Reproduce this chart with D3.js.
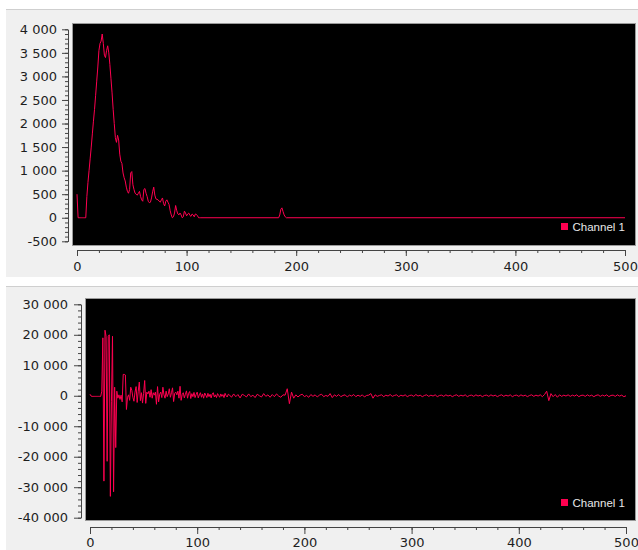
<!DOCTYPE html>
<html><head><meta charset="utf-8">
<script src="https://cdn.jsdelivr.net/npm/d3@7"></script>
<style>body{margin:0;background:#fff}svg{display:block}</style>
</head><body><svg id="c" width="638" height="550"></svg>
<script>
// ---------- DATA ----------
const seriesName = "Channel 1";
// top chart: values for x = 0..112 (one per unit)
const topHeadY = [500,0,0,0,0,0,0,0,0,
 450,750,1000,1250,1500,1780,2050,2300,2600,2900,3200,3550,3700,3750,3900,3700,3450,3400,3550,3650,3500,
 3250,2950,2650,2300,2000,1700,1600,1750,1650,1350,1200,1150,950,850,780,650,560,520,600,950,
 980,700,600,520,500,480,520,560,450,380,350,600,620,520,450,350,320,330,420,550,
 650,480,400,390,380,350,330,380,420,300,250,350,380,330,280,150,60,0,20,100,
 260,150,80,60,100,60,0,20,140,100,40,80,100,50,30,80,60,20,80,70,40,0,0];
// top chart: remaining points (x, y)
const topTailX = [113,184,185,186,187,188,189,190,191,500];
const topTailY = [0,0,60,180,210,130,60,20,0,0];
// bottom chart: values for x = 0..129 (one per unit)
const botHeadY = [500,-100,-200,-200,-200,-200,-200,-200,-200,-200,-200,
 1500,19000,-28000,21500,19500,-21500,19500,20000,-33000,-2000,
 19500,-31500,2800,-17000,1500,-800,300,-1200,200,-2000,
 7000,7000,6800,-4500,-500,300,-1500,2800,1800,-500,
 -1800,1200,3000,-2200,1500,4500,-1600,1000,-2400,800,
 5000,-2500,1200,600,1500,-500,2000,-800,1000,200,
 1200,-2800,3000,-2000,500,1200,-600,2800,300,-800,
 1500,-300,600,2300,-500,1000,2600,-1900,800,1200,
 300,1500,-800,3100,-1500,400,1000,-700,500,1600,
 -800,800,1400,-900,700,-300,1100,-600,400,1200,
 -700,300,1000,-500,600,-800,900,200,-600,800,
 -300,500,-700,600,1000,-400,300,-600,700,100,
 -500,600,-200,400,-600,800,0,-400,500];
// bottom chart: values for x = 130..500, every 2 units
const botTailStart = 130, botTailStep = 2;
const botTailY = [
 300,-500,600,-300,400,-700,500,100,-400,600,
 -300,200,-600,500,0,-400,700,-200,300,-500,
 400,-300,600,-100,-500,300,200,2300,-2600,1200,
 -800,300,-400,200,500,-300,100,-500,400,-200,
 300,-400,200,500,-300,100,-200,700,-600,300,
 -200,400,-300,100,300,-400,200,-100,400,-300,
 200,-200,300,-400,100,200,700,-800,300,-200,
 100,300,-300,200,-100,400,-200,100,300,-300,
 200,-100,300,-300,100,200,-200,400,-100,200,
 -300,100,300,-200,200,-100,300,-300,100,200,
 -200,300,-100,200,-300,100,300,-200,200,-100,
 300,-300,100,200,-200,300,-100,200,-300,100,
 200,-200,300,-100,200,-300,100,300,-200,200,
 -100,300,-300,100,200,-200,300,-100,200,-300,
 100,300,-200,200,-100,300,-300,400,1500,-1600,
 700,-300,400,-500,300,-200,200,-100,300,-200,
 200,-100,300,-300,100,200,-200,300,-100,200,
 -300,100,300,-200,200,-100,300,-300,100,200,
 -200,300,-100,200,-300,0];
const xTicks = [0,100,200,300,400,500];
const topYTicks = [-500,0,500,1000,1500,2000,2500,3000,3500,4000];
const botYTicks = [-40000,-30000,-20000,-10000,0,10000,20000,30000];

// ---------- BUILD SERIES ----------
const topData = topHeadY.map((v,i)=>[i,v]).concat(topTailX.map((x,i)=>[x,topTailY[i]]));
const botData = botHeadY.map((v,i)=>[i,v]).concat(botTailY.map((v,i)=>[botTailStart+i*botTailStep,v]));

const fmt = d3.formatLocale({decimal:".",thousands:" ",grouping:[3],currency:["",""],minus:"-"}).format(",d");
const svg = d3.select("#c");
const lineColor = "#ff0050";

function panel(cfg, idx){
  const g = svg.append("g");
  g.append("rect").attr("x",cfg.bg[0]).attr("y",cfg.bg[1]).attr("width",cfg.bg[2]).attr("height",cfg.bg[3]).attr("fill","#f0f0f0");
  g.append("line").attr("x1",cfg.bg[0]).attr("x2",cfg.bg[0]+cfg.bg[2]).attr("y1",cfg.bg[1]+0.5).attr("y2",cfg.bg[1]+0.5).attr("stroke","#cfcfcf");
  g.append("rect").attr("x",cfg.plot[0]+0.5).attr("y",cfg.plot[1]+0.5).attr("width",cfg.plot[2]).attr("height",cfg.plot[3])
    .attr("fill","#000").attr("stroke","#9a9a9a");
  const x = d3.scaleLinear().domain([0,500]).range(cfg.xr);
  const y = d3.scaleLinear().domain(cfg.yd).range(cfg.yr);
  const cid = "clip"+idx;
  g.append("clipPath").attr("id",cid).append("rect")
    .attr("x",cfg.plot[0]+1).attr("y",cfg.plot[1]+1).attr("width",cfg.plot[2]-1).attr("height",cfg.plot[3]-1);
  g.append("path").datum(cfg.data).attr("clip-path",`url(#${cid})`)
    .attr("d",d3.line().x(d=>x(d[0])).y(d=>y(d[1])))
    .attr("fill","none").attr("stroke",lineColor).attr("stroke-width",1);
  // x axis
  const xa = g.append("g").attr("transform",`translate(0,${cfg.xAxisY})`);
  xa.call(d3.axisBottom(x).tickValues(d3.range(0,501,20)).tickSize(3).tickSizeOuter(0).tickFormat(""));
  xa.append("g").call(d3.axisBottom(x).tickValues(xTicks).tickSize(cfg.tick).tickSizeOuter(0).tickPadding(cfg.xPad).tickFormat(fmt));
  // y axis
  const ya = g.append("g").attr("transform",`translate(${cfg.yAxisX},0)`);
  ya.call(d3.axisLeft(y).tickValues(d3.range(cfg.yd[0],cfg.yd[1]+1,cfg.minor)).tickSize(3).tickSizeOuter(0).tickFormat(""));
  ya.append("g").call(d3.axisLeft(y).tickValues(cfg.yTicks).tickSize(cfg.tick).tickSizeOuter(0).tickPadding(cfg.yPad).tickFormat(fmt));
  g.selectAll(".domain").attr("stroke","#444");
  g.selectAll(".tick line").attr("stroke","#444");
  g.selectAll(".tick text").attr("font-family","DejaVu Sans").attr("font-size","13px").attr("fill","#1e1e1e");
  // legend
  g.append("rect").attr("x",561).attr("y",cfg.legY-8).attr("width",7).attr("height",7).attr("fill",lineColor);
  g.append("text").attr("x",572.5).attr("y",cfg.legY).text(seriesName)
    .attr("font-family","Liberation Sans").attr("font-size","11.5px").attr("fill","#e8e8e8");
}

panel({bg:[6,9,632,268], plot:[72,23,563,222], xr:[77,625], yd:[-500,4000], yr:[241.3,29.3],
  xAxisY:250, yAxisX:68, tick:6, xPad:6, yPad:5, minor:100, yTicks:topYTicks, data:topData, legY:231},0);
panel({bg:[6,286,632,264], plot:[85,298,550,222], xr:[90,626], yd:[-40000,30000], yr:[517.7,304.3],
  xAxisY:527, yAxisX:81, tick:7, xPad:4, yPad:6, minor:2000, yTicks:botYTicks, data:botData, legY:507},1);
</script>
</body></html>
